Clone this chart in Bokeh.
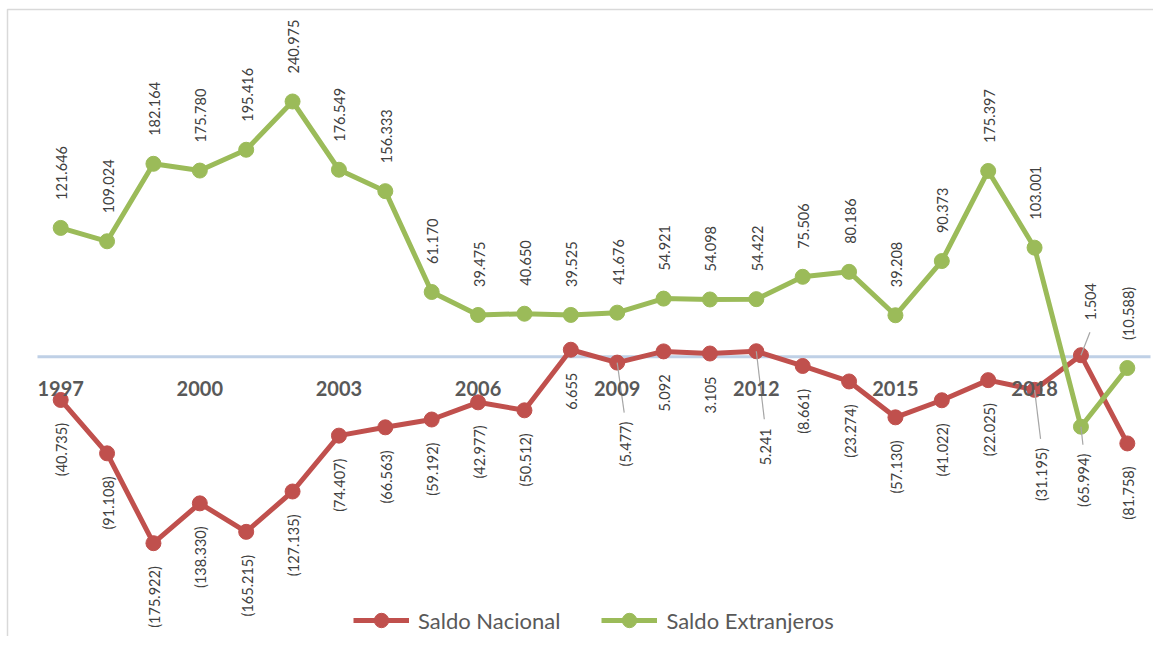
import math
from bokeh.plotting import figure
from bokeh.models import Range1d, Legend, LegendItem, ColumnDataSource, FixedTicker
from bokeh.embed import file_html
from bokeh.resources import INLINE
from bokeh.core.properties import value

# ---------------- data ----------------
years = list(range(1997, 2021))
saldo_nacional = [-40.735, -91.108, -175.922, -138.330, -165.215, -127.135, -74.407, -66.563,
                  -59.192, -42.977, -50.512, 6.655, -5.477, 5.092, 3.105, 5.241,
                  -8.661, -23.274, -57.130, -41.022, -22.025, -31.195, 1.504, -81.758]
saldo_extranjeros = [121.646, 109.024, 182.164, 175.780, 195.416, 240.975, 176.549, 156.333,
                     61.170, 39.475, 40.650, 39.525, 41.676, 54.921, 54.098, 54.422,
                     75.506, 80.186, 39.208, 90.373, 175.397, 103.001, -65.994, -10.588]
tick_years = [1997, 2000, 2003, 2006, 2009, 2012, 2015, 2018]
series_names = ["Saldo Nacional", "Saldo Extranjeros"]

# ---------------- styles / layout ----------------
RED = "#C0504D"
GREEN = "#9BBB59"
LABEL_COLOR = "#404040"
AXIS_TEXT = "#595959"
FONT = "Lato"
W, H = 1153, 636
PX_YEAR = 46.375      # px per year
PX_UNIT = 1.0595      # px per value unit
ZERO_PX = 356.3       # zero line from top of canvas
LEFT_PX = 37          # left end of zero line from left of canvas
BORDER_X, BORDER_Y = 7, 9

x_start = (years[0] - 0.5) - LEFT_PX / PX_YEAR
x_end = x_start + W / PX_YEAR
y_end = ZERO_PX / PX_UNIT
y_start = -(H - ZERO_PX) / PX_UNIT

p = figure(width=W, height=H, x_range=Range1d(x_start, x_end), y_range=Range1d(y_start, y_end),
           min_border=0, toolbar_location=None, output_backend="svg")
p.outline_line_color = None
p.background_fill_color = "white"
p.border_fill_color = "white"
p.grid.visible = False
p.yaxis.visible = False

xa = p.xaxis[0]
xa.fixed_location = 0
xa.ticker = FixedTicker(ticks=tick_years)
xa.axis_line_color = None
xa.major_tick_line_color = None
xa.minor_tick_line_color = None
xa.major_label_text_font = FONT
xa.major_label_text_font_style = "bold"
xa.major_label_text_font_size = "20px"
xa.major_label_text_color = AXIS_TEXT
xa.major_label_standoff = 18

# chart-area border (left and top edges visible in the crop)
bx = x_start + BORDER_X / PX_YEAR
by = y_end - BORDER_Y / PX_UNIT
p.line(x=[x_end, bx, bx], y=[by, by, y_start], line_color="#D9D9D9", line_width=1.5)

# zero line
p.line(x=[years[0] - 0.5, years[-1] + 0.5], y=[0, 0], line_color="#BFD0E6", line_width=3)

r_line_n = p.line(years, saldo_nacional, line_color=RED, line_width=5, line_join="round")
r_pt_n = p.scatter(years, saldo_nacional, size=15, fill_color=RED, line_color=RED)
r_line_e = p.line(years, saldo_extranjeros, line_color=GREEN, line_width=5, line_join="round")
r_pt_e = p.scatter(years, saldo_extranjeros, size=15, fill_color=GREEN, line_color=GREEN)

# ---------------- data labels ----------------
def fmt(v):
    s = f"{abs(v):.3f}"
    return f"({s})" if v < 0 else s

# (dx, dy, align) screen offsets for labels that were moved in the original
overrides = {
    (0, 2009): (8, 59, "right"),
    (0, 2012): (9, 77, "right"),
    (0, 2018): (7, 58, "right"),
    (0, 2019): (10, -35, "left"),
    (1, 2019): (3, 27, "right"),
}
defaults = {0: (1, 23, "right"), 1: (1, -28, "left")}

groups = {"left": dict(x=[], y=[], t=[], dx=[], dy=[]), "right": dict(x=[], y=[], t=[], dx=[], dy=[])}
lead = dict(x0=[], y0=[], x1=[], y1=[])
for si, vals in enumerate([saldo_nacional, saldo_extranjeros]):
    for yr, v in zip(years, vals):
        dx, dy, al = overrides.get((si, yr), defaults[si])
        g = groups[al]
        g["x"].append(yr); g["y"].append(v); g["t"].append(fmt(v))
        g["dx"].append(dx); g["dy"].append(dy)
        if (si, yr) in overrides:
            ex = dx - 1
            ey = dy - 9 if al == "right" else dy + 12
            lead["x0"].append(yr); lead["y0"].append(v)
            lead["x1"].append(yr + ex / PX_YEAR); lead["y1"].append(v - ey / PX_UNIT)

p.segment(x0="x0", y0="y0", x1="x1", y1="y1", source=ColumnDataSource(lead),
          line_color="#A6A6A6", line_width=1.2)

for al, g in groups.items():
    src = ColumnDataSource(g)
    p.text(x="x", y="y", text="t", source=src, angle=math.pi / 2,
           x_offset="dx", y_offset="dy", text_align=al, text_baseline="middle",
           text_font=value(FONT), text_font_size="14.5px", text_color=LABEL_COLOR)

# ---------------- legend ----------------
legend = Legend(items=[LegendItem(label=series_names[0], renderers=[r_line_n, r_pt_n]),
                       LegendItem(label=series_names[1], renderers=[r_line_e, r_pt_e])],
                orientation="horizontal", location=(353, -2),
                glyph_width=56, glyph_height=36, label_standoff=9, spacing=41,
                padding=0, margin=0, border_line_color=None, background_fill_alpha=0,
                label_text_font=FONT, label_text_font_size="22px", label_text_color=AXIS_TEXT)
p.add_layout(legend)

open("out.html", "w").write(file_html(p, INLINE))
